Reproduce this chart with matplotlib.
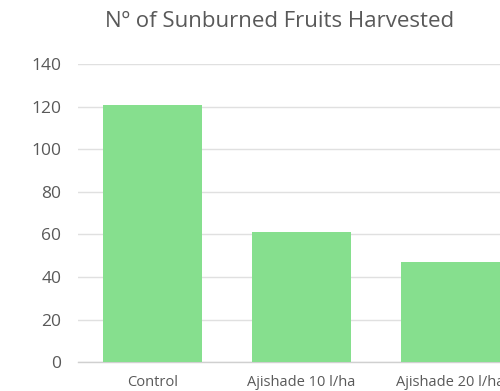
import matplotlib
matplotlib.use("Agg")
import matplotlib.pyplot as plt

categories = ["Control", "Ajishade 10 l/ha", "Ajishade 20 l/ha"]
values = [121, 61, 47]
y_ticks = [0, 20, 40, 60, 80, 100, 120, 140]
title = "Nº of Sunburned Fruits Harvested"

plt.rcParams["font.family"] = ["Open Sans", "DejaVu Sans"]

fig = plt.figure(figsize=(5.0, 3.91), dpi=100)
ax = fig.add_axes([0.156, 0.074, 0.894, 0.762])

x = range(len(categories))
ax.bar(x, values, width=0.665, color="#86DF8E", zorder=3)

ax.set_xlim(-0.5, len(categories) - 0.5)
ax.set_ylim(0, 140)
ax.set_yticks(y_ticks)
ax.set_xticks(list(x))
ax.set_xticklabels(categories)

ax.yaxis.grid(True, color="#E0E0E0", linewidth=1.0, zorder=0)
for s in ["top", "right", "left"]:
    ax.spines[s].set_visible(False)
ax.spines["bottom"].set_color("#D0D0D0")
ax.spines["bottom"].set_linewidth(1.0)

ax.tick_params(axis="y", length=0, pad=12, labelsize=12.5, labelcolor="#595959")
ax.tick_params(axis="x", length=0, pad=9, labelsize=10.5, labelcolor="#595959")

fig.text(0.56, 0.944, title, ha="center", va="center", fontsize=16, color="#595959")

fig.savefig("out.png", dpi=100)
